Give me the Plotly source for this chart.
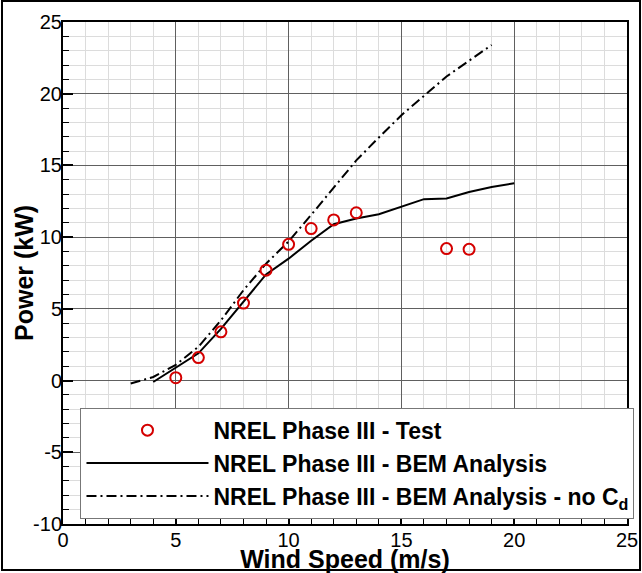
import plotly.graph_objects as go

# Test data
test_ws = [5, 6, 7, 8, 9, 10, 11, 12, 13, 17, 18]
test_power = [0.2, 1.6, 3.4, 5.4, 7.7, 9.5, 10.6, 11.2, 11.7, 9.2, 9.15]

# BEM analysis
bem_ws = [4, 5, 6, 7, 8, 9, 10, 11, 12, 13, 14, 15, 16, 17, 18, 19, 20]
bem_power = [-0.1, 0.9, 1.9, 3.6, 5.5, 7.4, 8.5, 9.75, 10.9, 11.3, 11.6, 12.1, 12.65, 12.7, 13.15, 13.5, 13.75]

# BEM analysis - no Cd
nocd_ws = [3, 4, 5, 6, 7, 8, 9, 10, 11, 12, 13, 14, 15, 16, 17, 18, 19]
nocd_power = [-0.2, 0.25, 1.1, 2.35, 4.2, 6.3, 8.15, 9.7, 11.55, 13.45, 15.35, 16.95, 18.5, 19.85, 21.2, 22.3, 23.4]

# Tick labels
x_tickvals = [0, 5, 10, 15, 20, 25]
x_ticktext = ["0", "5", "10", "15", "20", "25"]
y_tickvals = [-10, -5, 0, 5, 10, 15, 20, 25]
y_ticktext = ["-10", "-5", "0", "5", "10", "15", "20", "25"]

names = ["NREL Phase III - Test",
         "NREL Phase III - BEM Analysis",
         "NREL Phase III - BEM Analysis - no C<sub>d</sub>"]

FONT = "Arial, Liberation Sans, sans-serif"

fig = go.Figure()
fig.add_trace(go.Scatter(x=bem_ws, y=bem_power, mode="lines", name=names[1],
                         line=dict(color="black", width=2), legendrank=2))
fig.add_trace(go.Scatter(x=nocd_ws, y=nocd_power, mode="lines", name=names[2],
                         line=dict(color="black", width=2, dash="10px,4px,2px,4px"), legendrank=3))
fig.add_trace(go.Scatter(x=test_ws, y=test_power, mode="markers", name=names[0],
                         marker=dict(symbol="circle-open", size=11, color="#d40000",
                                     line=dict(width=2, color="#d40000")), legendrank=1))

axis_common = dict(
    showline=True, linewidth=2, linecolor="black", mirror=True,
    ticks="inside", ticklen=10, tickwidth=2, tickcolor="black",
    showgrid=True, gridcolor="#606060", gridwidth=1,
    zeroline=False, automargin=False,
    tickfont=dict(family=FONT, size=20, color="black"),
    minor=dict(dtick=1, ticks="inside", ticklen=6, tickwidth=1, tickcolor="black",
               showgrid=True, gridcolor="#dcdcdc", gridwidth=1),
)

fig.update_xaxes(range=[0, 25], tickmode="array", tickvals=x_tickvals, ticktext=x_ticktext,
                 ticklabelstandoff=-3, **axis_common,
                 title=dict(text="<b>Wind Speed (m/s)</b>", font=dict(family=FONT, size=25, color="black"),
                            standoff=0))
fig.update_yaxes(range=[-10, 25], tickmode="array", tickvals=y_tickvals, ticktext=y_ticktext,
                 ticklabelstandoff=-5, **axis_common)

fig.update_layout(
    width=642, height=573,
    margin=dict(l=63, r=15, t=22, b=49, autoexpand=False),
    paper_bgcolor="white", plot_bgcolor="white",
    font=dict(family=FONT, color="black"),
    legend=dict(x=0.031, y=0.2317, xanchor="left", yanchor="top",
                bgcolor="white", bordercolor="#777777", borderwidth=1,
                font=dict(family=FONT, size=23, color="black", weight="bold"),
                itemwidth=122, tracegroupgap=0),
    annotations=[dict(text="<b>Power (kW)</b>", textangle=-90, xref="paper", yref="paper",
                      x=(24 - 63) / 564, y=0.5, xanchor="center", yanchor="middle",
                      showarrow=False, font=dict(family=FONT, size=25, color="black"))],
    shapes=[dict(type="rect", xref="paper", yref="paper",
                 x0=(2 - 63) / 564, x1=(640 - 63) / 564,
                 y0=(524 - 570) / 502, y1=(524 - 1) / 502,
                 line=dict(color="black", width=2), fillcolor="rgba(0,0,0,0)")],
)

fig.write_html("out.html", config={"displayModeBar": False},
               post_script="document.body.style.margin='0px';")
